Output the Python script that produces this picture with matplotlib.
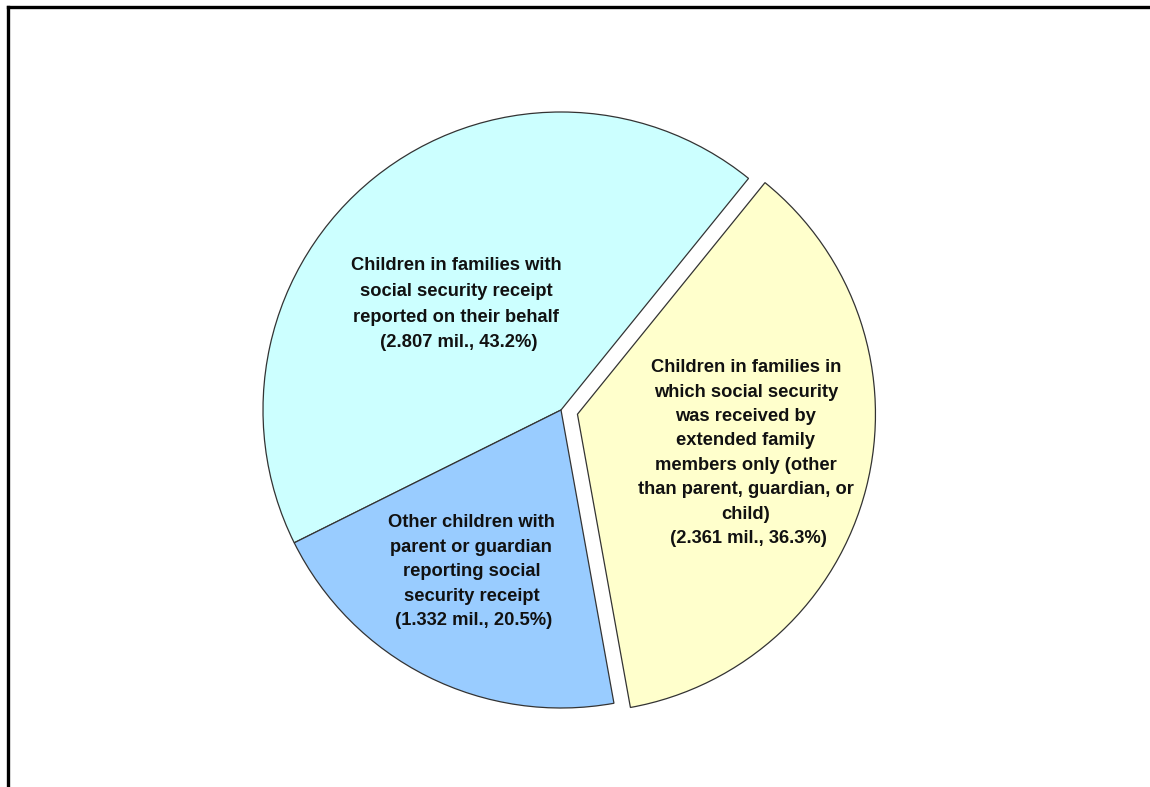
import numpy as np
import matplotlib.pyplot as plt
from matplotlib.lines import Line2D

# Slice data (counter-clockwise from the start angle)
labels = [
    "Children in families with\nsocial security receipt\nreported on their behalf\n (2.807 mil., 43.2%)",
    "Other children with\nparent or guardian\nreporting social\nsecurity receipt\n (1.332 mil., 20.5%)",
    "Children in families in\nwhich social security\nwas received by\nextended family\nmembers only (other\nthan parent, guardian, or\nchild)\n (2.361 mil., 36.3%)",
]
values = [2.807, 1.332, 2.361]
colors = ['#CCFFFF', '#99CCFF', '#FFFFCC']
explode = [0, 0, 0.057]

# label placement (fraction of radius, angle in degrees, line spacing) per slice
label_r = [0.50, 0.62, 0.58]
label_ang = [134.7, 241.0, 347.0]
label_ls = [1.68, 1.57, 1.57]

plt.rcParams['font.family'] = ['Liberation Sans', 'DejaVu Sans']

fig = plt.figure(figsize=(11.5, 7.87), dpi=100)
ax = fig.add_axes([0, 0, 1, 1])

wedges, _ = ax.pie(values, colors=colors, explode=explode, startangle=51,
                   counterclock=True, radius=1.0,
                   wedgeprops=dict(edgecolor='#333333', linewidth=0.9))

for w, lab, r, a, ls in zip(wedges, labels, label_r, label_ang, label_ls):
    cx, cy = w.center
    t = np.deg2rad(a)
    ax.text(cx + r * np.cos(t), cy + r * np.sin(t), lab, ha='center', va='center',
            multialignment='center', fontsize=13.2, fontweight='bold',
            color='#111111', linespacing=ls)

# keep 1 data unit = 298 px with the pie centre at (561, 410) px
W, H, R = 1150, 787, 298.0
cx_px, cy_px = 561, 410
ax.set_xlim(-cx_px / R, (W - cx_px) / R)
ax.set_ylim(-(H - cy_px) / R, cy_px / R)
ax.set_aspect('auto')
ax.axis('off')

# frame lines (top and left)
fig.add_artist(Line2D([8 / W, 1], [1 - 7 / H, 1 - 7 / H], color='black', lw=2.4,
                      transform=fig.transFigure))
fig.add_artist(Line2D([8 / W, 8 / W], [0, 1 - 7 / H], color='black', lw=2.4,
                      transform=fig.transFigure))

fig.savefig('out.png', dpi=100)
